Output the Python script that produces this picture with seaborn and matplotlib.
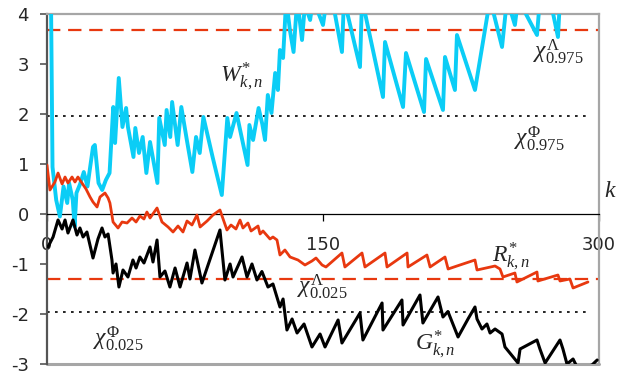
import matplotlib
matplotlib.use("Agg")
import matplotlib.pyplot as plt
import seaborn as sns
import pandas as pd

# ---------------- data ----------------
w_k = [2, 3, 5, 7, 9, 11, 12, 14, 15, 16, 18, 20, 22, 23, 25, 26, 28, 30, 32, 34,
       36, 37, 39, 41, 43, 44, 47, 48, 50, 52, 54, 56, 60, 61, 64, 65, 67, 68, 71, 73,
       76, 79, 81, 83, 85, 90, 95, 98, 99.5, 103, 109, 110, 112, 115, 117, 118.5, 120, 122, 124, 125.5,
       126.6, 128.3, 130, 132, 134, 136, 138.6, 140.2, 143, 144.6, 150, 152, 155, 160.3, 161.4, 170.1, 171.2, 182.6, 183.7, 193.5,
       195.1, 204.9, 206, 215.2, 216.3, 221.7, 222.8, 232.6, 240.8, 247.3, 250, 254.3, 256, 266.3, 267.9, 273.4, 277.7, 278.8]
w_val = [5.0, 0.94, 0.28, -0.05, 0.55, 0.22, 0.62, 0.28, -0.25, 0.42, 0.6, 0.84, 0.55, 0.82, 1.34, 1.38, 0.62, 0.48, 0.68, 0.82,
         2.14, 1.42, 2.72, 1.74, 2.12, 1.74, 1.14, 1.72, 1.22, 1.54, 0.82, 1.44, 0.62, 1.92, 1.38, 2.08, 1.54, 2.24, 1.38, 2.14,
         1.48, 0.84, 1.54, 1.22, 1.94, 1.14, 0.38, 1.92, 1.54, 2.02, 0.98, 1.78, 1.48, 2.12, 1.8, 1.48, 2.38, 2.02, 2.82, 2.48,
         3.28, 3.12, 4.3, 3.68, 3.24, 4.3, 3.48, 4.2, 3.88, 4.3, 3.78, 4.3, 4.3, 3.24, 4.3, 2.94, 4.3, 2.34, 3.44, 2.14,
         3.22, 2.04, 3.1, 2.08, 3.14, 2.48, 3.58, 2.48, 4.3, 3.34, 4.3, 3.78, 4.3, 3.58, 4.3, 4.3, 3.54, 4.3]

r_k = [0, 1.6, 4.3, 6, 8.2, 9.8, 11.4, 13.6, 15.2, 16.8, 19, 21.2, 23.4, 25, 27.2, 28.8, 31.5, 33.2, 34.2, 35.9,
       38.6, 40.8, 43.5, 46.2, 48.4, 50.5, 52.7, 54.3, 56, 59.8, 62.5, 65.8, 68.5, 71.2, 73.9, 76.1, 78.8, 81.5, 83.2, 87,
       90.2, 94, 97.8, 100, 102.7, 104.9, 106.5, 109.2, 110.9, 114.7, 115.8, 117.4, 121.2, 122.8, 125, 126.6, 129.3, 132.1, 136.4, 140.2,
       144, 146.2, 149.5, 151.6, 160.3, 161.9, 171.2, 172.8, 183.7, 184.8, 195.7, 196.2, 206.5, 208.2, 216.3, 218, 222.8, 232.6, 233.7, 243.5,
       246.2, 247.8, 254.3, 255.4, 266.3, 266.8, 277.7, 278.8, 284.2, 285.9, 294]
r_val = [0.98, 0.48, 0.64, 0.82, 0.6, 0.74, 0.62, 0.74, 0.64, 0.74, 0.62, 0.5, 0.34, 0.24, 0.14, 0.34, 0.42, 0.32, 0.22, -0.16,
         -0.28, -0.16, -0.18, -0.08, -0.16, -0.04, -0.1, 0.04, -0.08, 0.12, -0.16, -0.26, -0.36, -0.24, -0.36, -0.14, -0.22, -0.02, -0.26, -0.14,
         -0.02, 0.08, -0.32, -0.22, -0.3, -0.12, -0.28, -0.18, -0.34, -0.24, -0.4, -0.34, -0.5, -0.46, -0.52, -0.82, -0.72, -0.86, -0.92, -1.02,
         -0.94, -0.88, -1.02, -1.06, -0.78, -1.06, -0.78, -1.06, -0.78, -1.06, -0.78, -1.06, -0.82, -1.06, -0.86, -1.1, -1.04, -0.92, -1.12, -1.04,
         -1.1, -1.26, -1.18, -1.36, -1.16, -1.34, -1.22, -1.34, -1.3, -1.48, -1.36]

g_k = [0.5, 3.3, 6, 8.2, 9.8, 11.4, 14.1, 16.3, 17.9, 19.6, 21.7, 25, 27.7, 29.9, 31.5, 33.2, 35.3, 35.9, 37.5, 39.1,
       41.3, 44, 46.7, 48.4, 50.5, 52.7, 56, 57.6, 59.8, 61.4, 64.1, 66.8, 69.6, 72.3, 76.1, 77.7, 80.4, 84.2, 94, 96.7,
       99.5, 101.1, 106, 108.7, 111.4, 114.1, 116.8, 120.1, 122.8, 126.6, 128.3, 130.4, 133.2, 135.9, 139.7, 144, 148.4, 151.1, 158.2, 160.3,
       170.1, 171.7, 182.1, 182.6, 192.9, 193.5, 202.7, 204.3, 212.5, 215.2, 217.9, 223.4, 228.8, 232.6, 233.7, 236.4, 239.1, 240.8, 243.5, 247.3,
       248.9, 256, 257.1, 266.3, 267.9, 270.7, 278.8, 280.4, 282.6, 285.9, 288.6, 296.2, 299]
g_val = [-0.66, -0.46, -0.12, -0.3, -0.12, -0.38, -0.12, -0.42, -0.28, -0.46, -0.36, -0.88, -0.5, -0.28, -0.46, -0.4, -0.92, -1.18, -1.0, -1.46,
         -1.12, -1.26, -0.92, -1.08, -0.86, -0.98, -0.66, -0.96, -0.52, -1.26, -1.14, -1.46, -1.08, -1.46, -0.98, -1.3, -0.72, -1.38, -0.32, -1.32,
         -1.0, -1.26, -0.86, -1.26, -1.0, -1.32, -1.15, -1.46, -1.4, -1.86, -1.7, -2.32, -2.1, -2.38, -2.2, -2.66, -2.4, -2.66, -2.12, -2.58,
         -1.98, -2.52, -1.78, -2.32, -1.72, -2.22, -1.62, -2.18, -1.66, -2.06, -1.95, -2.46, -2.1, -1.86, -2.1, -2.3, -2.2, -2.38, -2.3, -2.4,
         -2.66, -2.98, -2.7, -2.52, -2.7, -2.98, -2.52, -2.7, -3.0, -2.9, -3.1, -3.02, -2.92]

crit_lambda = [3.68, -1.3]
crit_phi = [1.96, -1.96]
x_ticks = [0, 150, 300]
y_ticks = [-3, -2, -1, 0, 1, 2, 3, 4]

# ---------------- style ----------------
sns.set_style("white")
plt.rcParams["font.family"] = ["DejaVu Sans"]
plt.rcParams["axes.unicode_minus"] = False
plt.rcParams["mathtext.fontset"] = "custom"
plt.rcParams["mathtext.rm"] = "Liberation Serif"
plt.rcParams["mathtext.it"] = "Liberation Serif:italic"
plt.rcParams["mathtext.bf"] = "Liberation Serif:bold"

CYAN = "#0bcdf6"
RED = "#e8380f"
BLACK = "#000000"

fig = plt.figure(figsize=(6.18, 3.76), dpi=100)
ax = fig.add_axes([47 / 618, 12 / 376, 552 / 618, 350 / 376])

df_w = pd.DataFrame({"k": w_k, "v": w_val})
df_r = pd.DataFrame({"k": r_k, "v": r_val})
df_g = pd.DataFrame({"k": g_k, "v": g_val})

sns.lineplot(data=df_w, x="k", y="v", ax=ax, color=CYAN, lw=2.8, estimator=None, sort=False, zorder=3)
sns.lineplot(data=df_r, x="k", y="v", ax=ax, color=RED, lw=2.0, estimator=None, sort=False, zorder=4)
sns.lineplot(data=df_g, x="k", y="v", ax=ax, color=BLACK, lw=2.2, estimator=None, sort=False, zorder=4)

for c in crit_lambda:
    ax.axhline(c, color=RED, lw=1.6, dashes=(6, 3.5), zorder=2)
for c in crit_phi:
    ax.axhline(c, xmax=0.985, color=BLACK, lw=1.2, dashes=(1.6, 3.2), zorder=2)

ax.set_xlim(0, 300)
ax.set_ylim(-3, 4)
ax.set_xticks(x_ticks)
ax.set_yticks(y_ticks)
ax.set_xticklabels([str(t) for t in x_ticks])
ax.set_yticklabels([str(t) for t in y_ticks])
ax.set_xlabel("")
ax.set_ylabel("")

# frame
ax.spines["top"].set_color("#a6a6a6")
ax.spines["right"].set_color("#a6a6a6")
ax.spines["top"].set_linewidth(1.6)
ax.spines["right"].set_linewidth(1.6)
ax.spines["left"].set_color("#555555")
ax.spines["left"].set_linewidth(1.6)
ax.spines["bottom"].set_position(("data", 0))
ax.spines["bottom"].set_color("black")
ax.spines["bottom"].set_linewidth(0.9)
ax.axhline(-3, color="#a6a6a6", lw=2.2, clip_on=False, zorder=1)

ax.tick_params(axis="y", direction="out", length=5, width=1.2, color="#555555",
               pad=8, labelsize=13, left=True)
ax.tick_params(axis="x", direction="out", length=5, width=0.9, color="black",
               pad=11, labelsize=13, bottom=True)

# annotations
fs = 17
ax.text(94, 2.64, r"$W^{*}_{k,n}$", fontsize=fs, ha="left", va="baseline")
ax.text(264, 3.12, r"$\chi^{\Lambda}_{0.975}$", fontsize=fs, ha="left", va="baseline")
ax.text(254, 1.38, r"$\chi^{\Phi}_{0.975}$", fontsize=fs, ha="left", va="baseline")
ax.text(25, -2.62, r"$\chi^{\Phi}_{0.025}$", fontsize=fs, ha="left", va="baseline")
ax.text(136, -1.58, r"$\chi^{\Lambda}_{0.025}$", fontsize=fs, ha="left", va="baseline")
ax.text(242, -0.96, r"$R^{*}_{k,n}$", fontsize=fs, ha="left", va="baseline")
ax.text(200, -2.72, r"$G^{*}_{k,n}$", fontsize=fs, ha="left", va="baseline")
ax.text(302.6, 0.34, r"$k$", fontsize=fs, ha="left", va="baseline", clip_on=False)

fig.savefig("out.png", dpi=100)
